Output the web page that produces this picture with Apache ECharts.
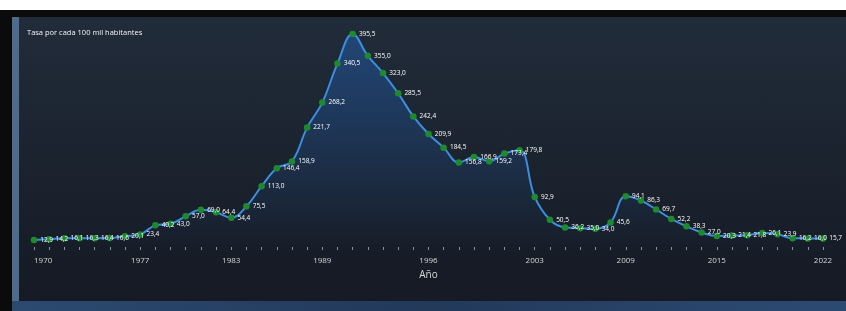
<!DOCTYPE html>
<html>
<head>
<meta charset="utf-8">
<script src="https://cdn.jsdelivr.net/npm/echarts@6/dist/echarts.min.js"></script>
<style>
  body { margin: 0; background: #fff; }
  #frame { position: absolute; left: 0; top: 10px; width: 846px; height: 301px; background: #0b0b0c; }
  #stripe { position: absolute; left: 12px; top: 17px; width: 7px; height: 284px; background: #4d6c8d; }
  #panel { position: absolute; left: 19px; top: 17px; width: 827px; height: 284px;
           background: linear-gradient(#212c3a, #151a24); }
  #bottom { position: absolute; left: 12px; top: 301px; width: 834px; height: 10px;
            background: linear-gradient(90deg, #2b4a70, #22395a 50%, #2c4b73); }
  #main { position: absolute; left: 0; top: 0; width: 846px; height: 311px; }
</style>
</head>
<body>
<div id="frame"></div>
<div id="stripe"></div>
<div id="panel"></div>
<div id="bottom"></div>
<div id="main"></div>
<script>
// años y tasa por cada 100 mil habitantes
var years = [];
for (var y = 1970; y <= 2022; y++) years.push(String(y));

var tasa = [
  12.9, 14.2, 16.1, 16.3, 16.4, 16.6, 20.1, 23.4, 40.2, 43.0,
  57.0, 69.0, 64.4, 54.4, 75.5, 113.0, 146.4, 158.9, 221.7, 268.2,
  340.5, 395.5, 355.0, 323.0, 285.5, 242.4, 209.9, 184.5, 156.8, 166.9,
  159.2, 173.4, 179.8, 92.9, 50.5, 36.2, 35.0, 34.0, 45.6, 94.1,
  86.3, 69.7, 52.2, 38.3, 27.0, 20.3, 21.4, 21.8, 26.1, 23.9,
  16.2, 16.0, 15.7
];

var labelYears = ['1970', '1977', '1983', '1989', '1996', '2003', '2009', '2015', '2022'];

var myChart = echarts.init(document.getElementById('main'));
myChart.setOption({
  backgroundColor: 'transparent',
  textStyle: { fontFamily: 'Open Sans' },
  title: {
    text: 'Tasa por cada 100 mil habitantes',
    left: 22,
    top: 24,
    textStyle: { color: '#f4f4f4', fontSize: 7.5, fontWeight: 'normal' }
  },
  grid: { left: 34, right: 23, top: 34, bottom: 64 },
  xAxis: {
    type: 'category',
    data: years,
    boundaryGap: false,
    offset: 3,
    name: 'Año',
    nameLocation: 'middle',
    nameGap: 19,
    nameTextStyle: { color: '#d8d8d8', fontSize: 10 },
    axisLine: { show: false },
    axisTick: {
      show: true,
      interval: 0,
      length: 3,
      lineStyle: { color: '#8a8f99' }
    },
    axisLabel: {
      color: '#d4d4d4',
      fontSize: 8,
      margin: 7,
      alignMinLabel: 'left',
      interval: function (i, v) { return labelYears.indexOf(v) >= 0; }
    }
  },
  yAxis: {
    type: 'value',
    min: 0,
    max: 395.5,
    show: false,
    splitLine: { show: false }
  },
  series: [{
    type: 'line',
    data: tasa,
    smooth: 0.4,
    symbol: 'circle',
    symbolSize: 6.5,
    itemStyle: { color: '#1f8a2d' },
    lineStyle: { color: '#3a8fe0', width: 2 },
    areaStyle: {
      color: new echarts.graphic.LinearGradient(0, 0, 0, 1, [
        { offset: 0, color: 'rgba(35,95,175,0.75)' },
        { offset: 1, color: 'rgba(35,95,175,0)' }
      ])
    },
    label: {
      show: true,
      position: 'right',
      distance: 3,
      color: '#ffffff',
      fontSize: 6.5,
      formatter: function (p) { return p.value.toFixed(1).replace('.', ','); }
    }
  }]
});
</script>
</body>
</html>
